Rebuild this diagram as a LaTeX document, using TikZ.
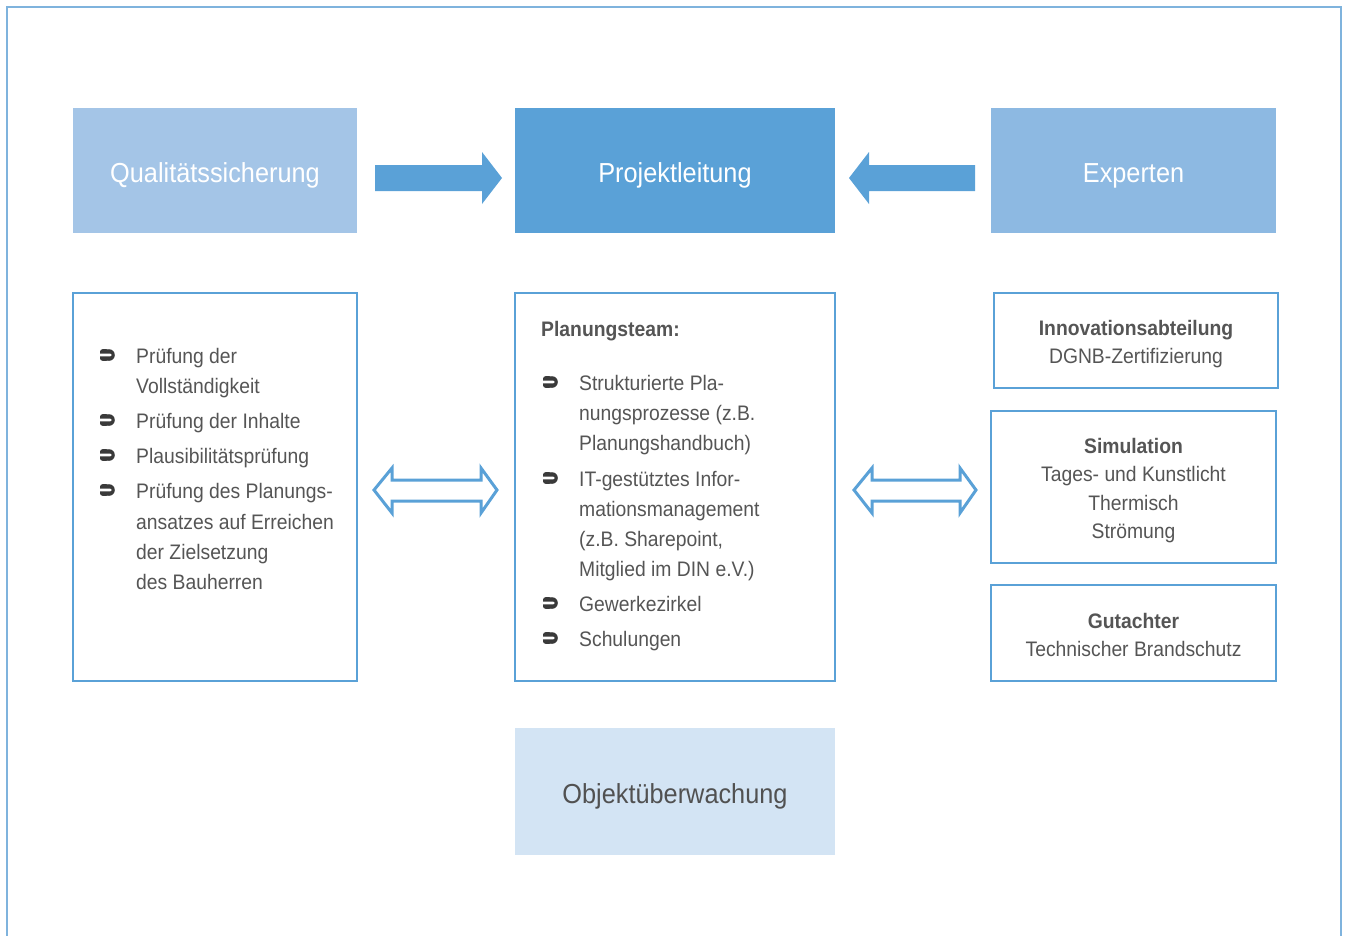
\documentclass[tikz,border=0pt]{standalone}
\usepackage{fontspec}
\setmainfont{Liberation Sans}[FakeStretch=0.92]
\definecolor{frame}{HTML}{7FB3DD}
\definecolor{bluemain}{HTML}{5AA1D7}
\definecolor{blueq}{HTML}{A4C5E7}
\definecolor{bluee}{HTML}{8DB9E2}
\definecolor{blueo}{HTML}{D3E4F4}
\definecolor{txtgray}{HTML}{555555}
\definecolor{bulgray}{HTML}{3A3A3A}
\tikzset{
  outlinebox/.style={draw=bluemain, line width=1.5pt, fill=white},
  titletxt/.style={font=\fontsize{27.5}{32}\selectfont, text=white, inner sep=0pt, anchor=base},
  txt/.style={font=\fontsize{21}{25}\selectfont, text=txtgray, inner sep=0pt},
  pics/bulletmark/.style={code={
     \fill[bulgray] (1,0) circle[radius=5.8pt];
     \fill[bulgray, rounded corners=2.5pt] (-8,-5.8) rectangle (1,5.8);
     \fill[white] (-9,-1.4) -- (2.2,-1.4) -- (3.8,0) -- (2.2,1.4) -- (-9,1.4) -- cycle;
  }},
  solidarrow/.style={fill=bluemain, draw=none},
  dblarrow/.style={draw=bluemain, line width=3pt, line join=miter, fill=white}
}
\begin{document}
\begin{tikzpicture}[x=1pt,y=-1pt]
\useasboundingbox (0,0) rectangle (1346,935);
% frame
\draw[frame, line width=2pt] (7,940) -- (7,7) -- (1341,7) -- (1341,940);

% top boxes
\fill[blueq] (73,108) rectangle (357,233);
\fill[bluemain] (515,108) rectangle (835,233);
\fill[bluee] (991,108) rectangle (1276,233);
\node[titletxt] (qs) at (215,182) {Qualitätssicherung};
\node[titletxt] (pl) at (675,182) {Projektleitung};
\node[titletxt] (ex) at (1133.5,182) {Experten};

% solid arrows
\fill[solidarrow] (375,165) -- (482,165) -- (482,152) -- (502,178) -- (482,204) -- (482,191) -- (375,191) -- cycle;
\fill[solidarrow] (975,165) -- (869,165) -- (869,152) -- (849,178) -- (869,204) -- (869,191) -- (975,191) -- cycle;

% outline boxes
\draw[outlinebox] (73,293) rectangle (357,681);
\draw[outlinebox] (515,293) rectangle (835,681);
\draw[outlinebox] (994,293) rectangle (1278,388);
\draw[outlinebox] (991,411) rectangle (1276,563);
\draw[outlinebox] (991,585) rectangle (1276,681);

% bottom box
\fill[blueo] (515,728) rectangle (835,855);
\node[titletxt, text=txtgray!95!black] (ob) at (675,803) {Objektüberwachung};

% double arrows
\draw[dblarrow] (374,490) -- (392,468) -- (392,480) -- (481,480) -- (481,468) -- (497,490) -- (481,513) -- (481,501) -- (392,501) -- (392,513) -- cycle;
\draw[dblarrow] (854,490) -- (872,468) -- (872,480) -- (960,480) -- (960,468) -- (976,490) -- (960,513) -- (960,501) -- (872,501) -- (872,513) -- cycle;

% left list
\foreach \n/\y/\t in {1/363/{Prüfung der},2/393/{Vollständigkeit},3/428/{Prüfung der Inhalte},4/463/{Plausibilitätsprüfung},5/498/{Prüfung des Planungs-},6/529/{ansatzes auf Erreichen},7/559/{der Zielsetzung},8/589/{des Bauherren}}
  \node[txt, anchor=base west] (L\n) at (136,\y) {\t};
\foreach \y in {355,420,455,490} \pic at (108,\y) {bulletmark};

% middle list
\node[txt, anchor=base west, font=\fontsize{21}{25}\selectfont\bfseries] (pt) at (541,336) {Planungsteam:};
\foreach \n/\y/\t in {1/390/{Strukturierte Pla-},2/420/{nungsprozesse (z.B.},3/450/{Planungshandbuch)},4/486/{IT-gestütztes Infor-},5/516/{mationsmanagement},6/546/{(z.B. Sharepoint,},7/576/{Mitglied im DIN e.V.)},8/611/{Gewerkezirkel},9/646/{Schulungen}}
  \node[txt, anchor=base west] (M\n) at (579,\y) {\t};
\foreach \y in {382,478,603,638} \pic at (551,\y) {bulletmark};

% right texts
\node[txt, anchor=base, font=\fontsize{21}{25}\selectfont\bfseries] (r1) at (1136,335) {Innovationsabteilung};
\node[txt, anchor=base] (r2) at (1136,363) {DGNB-Zertifizierung};
\node[txt, anchor=base, font=\fontsize{21}{25}\selectfont\bfseries] (r3) at (1133.5,453) {Simulation};
\node[txt, anchor=base] (r4) at (1133.5,481) {Tages- und Kunstlicht};
\node[txt, anchor=base] (r5) at (1133.5,510) {Thermisch};
\node[txt, anchor=base] (r6) at (1133.5,538) {Strömung};
\node[txt, anchor=base, font=\fontsize{21}{25}\selectfont\bfseries] (r7) at (1133.5,628) {Gutachter};
\node[txt, anchor=base] (r8) at (1133.5,656) {Technischer Brandschutz};
\end{tikzpicture}
\end{document}
